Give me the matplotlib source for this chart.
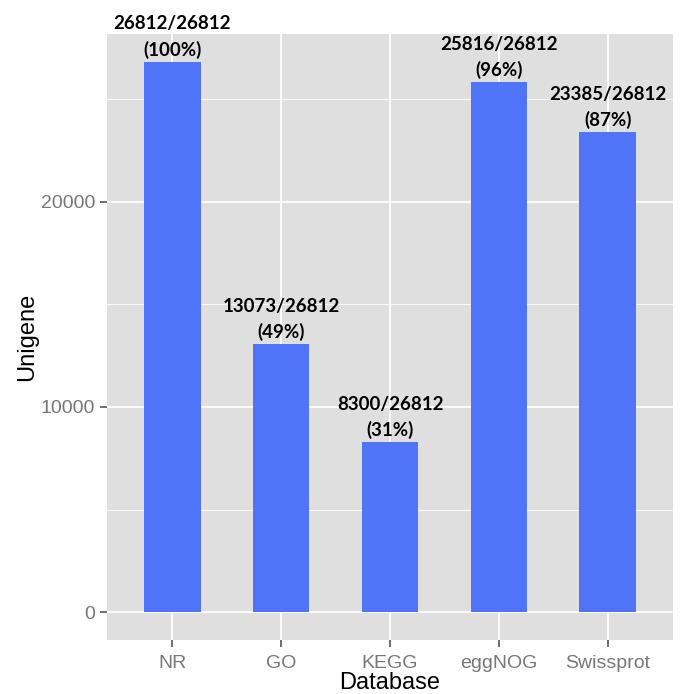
import matplotlib
matplotlib.use("Agg")
import matplotlib.pyplot as plt
import numpy as np

categories = ["NR", "GO", "KEGG", "eggNOG", "Swissprot"]
values = [26812, 13073, 8300, 25816, 23385]
total = 26812
percents = ["100%", "49%", "31%", "96%", "87%"]

fig = plt.figure(figsize=(6.81, 6.94), dpi=100)
ax = fig.add_axes([107/681, 54/694, 566/681, 606/694])
ax.set_facecolor("#DFDFDF")

x = np.arange(len(categories))
ax.bar(x, values, width=0.52, color="#4F74F7", zorder=3)

ymax = max(values)
ax.set_ylim(-0.05 * ymax, 1.05 * ymax)
ax.set_xlim(-0.6, len(categories) - 0.4)

ax.set_yticks([0, 10000, 20000])
ax.set_yticks([5000, 15000, 25000], minor=True)
ax.set_xticks(x)
ax.set_xticklabels(categories)
ax.grid(which="major", color="white", linewidth=1.3, zorder=1)
ax.grid(which="minor", axis="y", color="white", linewidth=0.6, zorder=1)
for s in ax.spines.values():
    s.set_visible(False)
ax.tick_params(axis="both", which="major", length=5, width=1.2, color="#555555",
               labelcolor="#777777", labelsize=14)
ax.tick_params(axis="x", which="major", pad=6)
ax.tick_params(axis="y", which="minor", length=0)
for lab in ax.get_xticklabels() + ax.get_yticklabels():
    lab.set_family("Liberation Sans")

ax.set_xlabel("Database", fontsize=17, family="Liberation Sans", labelpad=0)
ax.set_ylabel("Unigene", fontsize=17, family="Liberation Sans", labelpad=2)

for xi, v, p in zip(x, values, percents):
    ax.annotate(f"{v}/{total}\n({p})", (xi, v), xytext=(0, 2), textcoords="offset points",
                ha="center", va="bottom", fontsize=13.5, fontweight="bold",
                family="Lato", linespacing=1.55, annotation_clip=False, zorder=4)

fig.savefig("out.png", dpi=100)
